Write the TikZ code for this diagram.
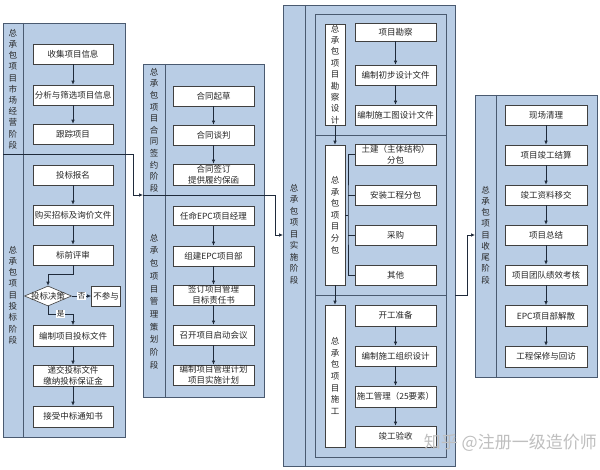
\documentclass[tikz,border=0pt]{standalone}
\usepackage{fontspec}
\setmainfont{Noto Sans CJK SC}
\usetikzlibrary{arrows.meta,shapes.geometric}
\definecolor{pfill}{HTML}{B9CDE5}
\definecolor{pdraw}{HTML}{4A5A70}
\definecolor{bdraw}{HTML}{404040}
\definecolor{arrc}{HTML}{1F2A3A}
\definecolor{txt}{HTML}{262626}
\begin{document}
\begin{tikzpicture}[x=1pt,y=-1pt,
  panel/.style={draw=pdraw, fill=pfill, line width=0.8pt, anchor=north west, inner sep=0pt},
  box/.style={draw=bdraw, fill=white, line width=0.6pt, minimum width=80pt, minimum height=20pt, inner sep=0pt, align=center, font=\fontsize{8.5}{11}\selectfont, text=txt},
  vlab/.style={align=center, inner sep=0pt, text=txt},
  lbox/.style={draw=bdraw, fill=white, line width=0.6pt, minimum width=20pt, inner sep=0pt, align=center, text=txt, font=\fontsize{8.5}{11.6}\selectfont},
  arr/.style={draw=arrc, line width=0.7pt, -{Latex[length=4pt,width=3.5pt]}},
  ln/.style={draw=arrc, line width=0.7pt},
  lbl/.style={fill=white, inner sep=0.6pt, font=\fontsize{7.5}{8}\selectfont, text=txt},
  stripline/.style={draw=pdraw, line width=0.8pt}]
\useasboundingbox (0,0) rectangle (600,470);
\fill[white] (0,0) rectangle (600,470);

% ---------- column 1 ----------
\node[panel, minimum width=122pt, minimum height=131pt] (p1a) at (3,23) {};
\node[panel, minimum width=122pt, minimum height=283pt] (p1b) at (3,154) {};
\draw[stripline] (23,23) -- (23,437);
\node[vlab, font=\fontsize{8.5}{11.2}\selectfont] (l1a) at (13,89) {总\\承\\包\\项\\目\\市\\场\\经\\营\\阶\\段};
\node[vlab, font=\fontsize{8.5}{11.3}\selectfont] (l1b) at (13,295) {总\\承\\包\\项\\目\\投\\标\\阶\\段};

\node[box] (a1) at (73,54) {收集项目信息};
\node[box] (a2) at (73,95) {分析与筛选项目信息};
\node[box] (a3) at (73,134) {跟踪项目};
\node[box] (b1) at (73,175) {投标报名};
\node[box] (b2) at (73,215) {购买招标及询价文件};
\node[box] (b3) at (73,255) {标前评审};
\node[draw=bdraw, fill=white, diamond, minimum width=47pt, minimum height=20pt, inner sep=0pt, line width=0.6pt] (dec) at (48,296) {};
\node[font=\fontsize{8.5}{10}\selectfont, text=txt, inner sep=0pt] (dect) at (dec) {投标决策};
\node[box, minimum width=29pt] (np) at (106,296) {不参与};
\node[box, minimum height=21pt] (b5) at (73,336) {编制项目投标文件};
\node[box, minimum height=21pt] (b6) at (73,375.5) {递交投标文件\\缴纳投标保证金};
\node[box, minimum height=21pt] (b7) at (73,416.5) {接受中标通知书};

\draw[arr] (a1) -- (a2);
\draw[arr] (a2) -- (a3);
\draw[arr] (b1) -- (b2);
\draw[arr] (b2) -- (b3);
\coordinate (y0) at (48,274);
\draw[arr] (b3.south) |- (y0) -- (dec.north);
\draw[arr] (dec.east) -- node[lbl] {否} (np.west);
\coordinate (y1) at (73,314);
\draw[arr] (dec.south) |- node[lbl, pos=0.75] {是} (y1) -- (b5.north);
\draw[arr] (b5) -- (b6);
\draw[arr] (b6) -- (b7);

% ---------- column 2 ----------
\node[panel, minimum width=121pt, minimum height=131pt] (p2a) at (143,64) {};
\node[panel, minimum width=121pt, minimum height=202pt] (p2b) at (143,195) {};
\draw[stripline] (165,64) -- (165,397);
\node[vlab, font=\fontsize{8.5}{11.6}\selectfont] (l2a) at (154,130) {总\\承\\包\\项\\目\\合\\同\\签\\约\\阶\\段};
\node[vlab, font=\fontsize{8.5}{12.7}\selectfont] (l2b) at (154,301.5) {总\\承\\包\\项\\目\\管\\理\\策\\划\\阶\\段};

\node[box, minimum width=81pt] (c1) at (213.5,96) {合同起草};
\node[box, minimum width=81pt] (c2) at (213.5,135) {合同谈判};
\node[box, minimum width=81pt, minimum height=21pt] (c3) at (213.5,174.5) {合同签订\\提供履约保函};
\node[box, minimum width=81pt, minimum height=19pt] (d1) at (213.5,216) {任命EPC项目经理};
\node[box, minimum width=81pt] (d2) at (213.5,256) {组建EPC项目部};
\node[box, minimum width=81pt] (d3) at (213.5,295) {签订项目管理\\目标责任书};
\node[box, minimum width=81pt] (d4) at (213.5,335) {召开项目启动会议};
\node[box, minimum width=81pt] (d5) at (213.5,375) {编制项目管理计划\\项目实施计划};

\draw[arr] (c1) -- (c2);
\draw[arr] (c2) -- (c3);
\draw[arr] (d1) -- (d2);
\draw[arr] (d2) -- (d3);
\draw[arr] (d3) -- (d4);
\draw[arr] (d4) -- (d5);

% ---------- column 3 ----------
\node[panel, minimum width=172pt, minimum height=461pt] (p3) at (283,5) {};
\draw[stripline] (305,5) -- (305,466);
\node[vlab, font=\fontsize{8.5}{11.5}\selectfont] (l3) at (294,234) {总\\承\\包\\项\\目\\实\\施\\阶\\段};
\node[panel, minimum width=131pt, minimum height=121pt] (q1) at (315,14) {};
\node[panel, minimum width=131pt, minimum height=160pt] (q2) at (315,135) {};
\node[panel, minimum width=131pt, minimum height=162pt] (q3) at (315,295) {};

\node[lbox, minimum height=101pt, font=\fontsize{8.5}{11.4}\selectfont] (s1) at (335,74.5) {总\\承\\包\\项\\目\\勘\\察\\设\\计};
\node[lbox, minimum height=140pt] (s2) at (335,215) {总\\承\\包\\项\\目\\分\\包};
\node[lbox, minimum height=142pt] (s3) at (335,376) {总\\承\\包\\项\\目\\施\\工};

\node[box, minimum width=81pt, minimum height=18pt] (e1) at (395.5,32) {项目勘察};
\node[box, minimum width=81pt] (e2) at (395.5,75) {编制初步设计文件};
\node[box, minimum width=81pt] (e3) at (395.5,115) {编制施工图设计文件};
\node[box, minimum width=81pt, minimum height=21pt] (t1) at (395.5,154.5) {土建（主体结构）\\分包};
\node[box, minimum width=81pt] (t2) at (395.5,195) {安装工程分包};
\node[box, minimum width=81pt] (t3) at (395.5,235) {采购};
\node[box, minimum width=81pt] (t4) at (395.5,275) {其他};
\node[box, minimum width=81pt, minimum height=21pt] (g1) at (395.5,315.5) {开工准备};
\node[box, minimum width=81pt] (g2) at (395.5,356) {编制施工组织设计};
\node[box, minimum width=81pt, minimum height=21pt] (g3) at (395.5,396.5) {施工管理（25要素）};
\node[box, minimum width=81pt, minimum height=21pt] (g4) at (395.5,436.5) {竣工验收};

\draw[arr] (e1) -- (e2);
\draw[arr] (e2) -- (e3);
\draw[arr] (g1) -- (g2);
\draw[arr] (g2) -- (g3);
\draw[arr] (g3) -- (g4);
\draw[arr] (s1) -- (s2);
\draw[arr] (s2) -- (s3);
\coordinate (brx) at (348,215);
\draw[ln] (s2.east) -- (brx);
\draw[ln] (t1.west) -| (brx) |- (t4.west);
\draw[ln] (t2.west) -- (t2.west -| brx);
\draw[ln] (t3.west) -- (t3.west -| brx);

% ---------- column 4 ----------
\node[panel, minimum width=122pt, minimum height=282pt] (p4) at (475,95) {};
\draw[stripline] (496,95) -- (496,377);
\node[vlab, font=\fontsize{8.5}{11.25}\selectfont] (l4) at (485.5,235) {总\\承\\包\\项\\目\\收\\尾\\阶\\段};

\node[box, minimum width=82pt] (h1) at (546,115) {现场清理};
\node[box, minimum width=82pt] (h2) at (546,155) {项目竣工结算};
\node[box, minimum width=82pt] (h3) at (546,195) {竣工资料移交};
\node[box, minimum width=82pt] (h4) at (546,235) {项目总结};
\node[box, minimum width=82pt] (h5) at (546,275) {项目团队绩效考核};
\node[box, minimum width=82pt, minimum height=21pt] (h6) at (546,316) {EPC项目部解散};
\node[box, minimum width=82pt, minimum height=21pt] (h7) at (546,356.5) {工程保修与回访};

\draw[arr] (h1) -- (h2);
\draw[arr] (h2) -- (h3);
\draw[arr] (h3) -- (h4);
\draw[arr] (h4) -- (h5);
\draw[arr] (h5) -- (h6);
\draw[arr] (h6) -- (h7);

% ---------- stage connectors ----------
\coordinate (k1) at (133,195);
\draw[arr] (p1a.south west) -| (k1) -- (p2b.north west);
\coordinate (k2) at (275,235);
\draw[arr] (p2a.south west) -| (k2) -- (k2 -| p3.west);
\coordinate (j3) at (455,295);
\coordinate (k3) at (467,235);
\draw[arr] (j3) -| (k3) -- (k3 -| p4.west);

% ---------- watermark ----------
\node[text=black!25, font=\fontsize{17}{17}\selectfont, anchor=east, inner sep=0pt] (wm) at (597,443) {知乎 @注册一级造价师};
\end{tikzpicture}
\end{document}
